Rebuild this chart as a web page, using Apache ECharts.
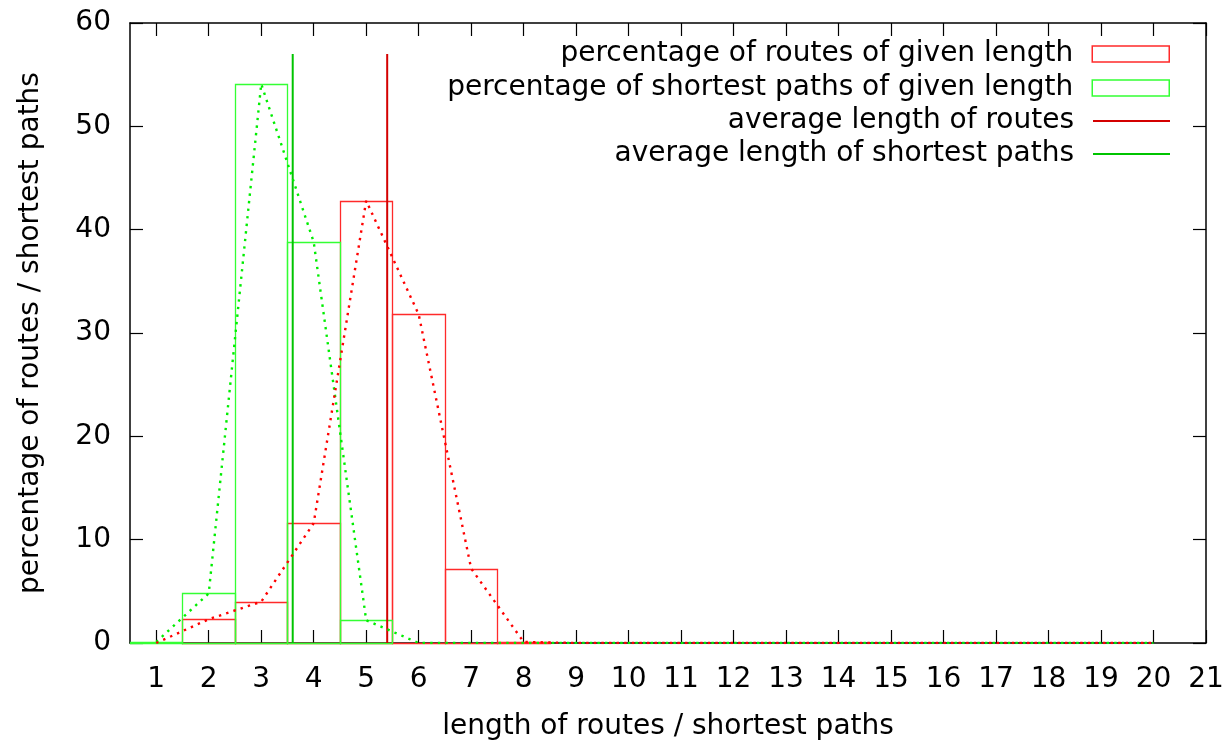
<!DOCTYPE html>
<html>
<head>
<meta charset="utf-8">
<script src="https://cdn.jsdelivr.net/npm/echarts@6/dist/echarts.min.js"></script>
<style>
  html, body { margin: 0; padding: 0; background: #fff; }
  #chart { width: 1228px; height: 740px; }
</style>
</head>
<body>
<div id="chart"></div>
<script>
// path lengths 1..20
const lengths = [1, 2, 3, 4, 5, 6, 7, 8, 9, 10, 11, 12, 13, 14, 15, 16, 17, 18, 19, 20];
// percentage of routes of each length
const routePct = [0, 2.3, 4.0, 11.6, 42.8, 31.8, 7.2, 0.1, 0, 0, 0, 0, 0, 0, 0, 0, 0, 0, 0, 0];
// percentage of shortest paths of each length
const shortestPct = [0.1, 4.8, 54.1, 38.8, 2.2, 0, 0, 0, 0, 0, 0, 0, 0, 0, 0, 0, 0, 0, 0, 0];
// mean lengths and the height of their marker lines
const avgRoute = 5.4;
const avgShortest = 3.6;
const avgLineTop = 57;
// axis ticks
const xTicks = [1, 2, 3, 4, 5, 6, 7, 8, 9, 10, 11, 12, 13, 14, 15, 16, 17, 18, 19, 20, 21];
const yTicks = [0, 10, 20, 30, 40, 50, 60];

const names = {
  routes: 'percentage of routes of given length',
  shortest: 'percentage of shortest paths of given length',
  avgRoutes: 'average length of routes',
  avgShortest: 'average length of shortest paths'
};

const FONT = 'DejaVu Sans';
const FS = 28;
const RED_BOX = '#ff2a2a';
const GREEN_BOX = '#33ff33';
const RED_AVG = '#d40000';
const GREEN_AVG = '#00c400';

const pairs = (vals) => lengths.map((x, i) => [x, vals[i]]);

// outlined box of width 1 centred on each length; empty bins draw nothing
function boxRenderer(color) {
  return function (params, api) {
    const x = api.value(0), y = api.value(1);
    if (!(y > 0)) return null;
    const a = api.coord([x - 0.5, y]);
    const b = api.coord([x + 0.5, 0]);
    return {
      type: 'rect',
      shape: { x: Math.round(a[0]) + 0.5, y: Math.round(a[1]) + 0.5,
               width: Math.round(b[0]) - Math.round(a[0]),
               height: Math.round(b[1]) - Math.round(a[1]) },
      style: { fill: 'none', stroke: color, lineWidth: 1.3 }
    };
  };
}

const axisCommon = {
  axisLine: { show: true, onZero: false, lineStyle: { color: '#000', width: 1.5 } },
  axisTick: { show: true, inside: true, length: 13, lineStyle: { color: '#000', width: 1.2 } },
  splitLine: { show: false }
};

function legendEntry(name, top, icon, itemHeight, itemStyle, lineStyle) {
  const d = { name: name, icon: icon, itemStyle: itemStyle };
  if (lineStyle) d.lineStyle = lineStyle;
  return {
    orient: 'vertical', right: 58, top: top, padding: 0,
    itemWidth: 77, itemHeight: itemHeight, selectedMode: false,
    align: 'right',
    textStyle: { fontFamily: FONT, fontSize: FS, color: '#000', lineHeight: 30, padding: [0, 14, 0, 0] },
    data: [d]
  };
}

const chart = echarts.init(document.getElementById('chart'), null, { renderer: 'canvas' });
chart.setOption({
  animation: false,
  backgroundColor: '#fff',
  grid: { left: 130, right: 22, top: 23, bottom: 97, containLabel: false, outerBoundsMode: 'none' },
  legend: [
    legendEntry(names.routes, 39, 'rect', 16, { color: 'rgba(0,0,0,0)', borderColor: RED_BOX, borderWidth: 1.5 }),
    legendEntry(names.shortest, 73, 'rect', 16, { color: 'rgba(0,0,0,0)', borderColor: GREEN_BOX, borderWidth: 1.5 }),
    legendEntry(names.avgRoutes, 106, 'rect', 2, { color: RED_AVG }, { color: RED_AVG, width: 2 }),
    legendEntry(names.avgShortest, 139, 'rect', 2, { color: GREEN_AVG }, { color: GREEN_AVG, width: 2 })
  ],
  xAxis: [
    Object.assign({}, axisCommon, {
      type: 'value', position: 'bottom', min: 0.5, max: 21,
      name: 'length of routes / shortest paths', nameLocation: 'middle', nameGap: 70,
      nameTextStyle: { fontFamily: FONT, fontSize: FS, color: '#000' },
      axisTick: Object.assign({}, axisCommon.axisTick, { customValues: xTicks }),
      axisLabel: { customValues: xTicks, fontFamily: FONT, fontSize: FS, color: '#000', margin: 23 }
    }),
    Object.assign({}, axisCommon, {
      type: 'value', position: 'top', min: 0.5, max: 21,
      axisTick: Object.assign({}, axisCommon.axisTick, { customValues: xTicks }),
      axisLabel: { show: false }
    })
  ],
  yAxis: [
    Object.assign({}, axisCommon, {
      type: 'value', position: 'left', min: 0, max: 60, interval: 10,
      name: 'percentage of routes / shortest paths', nameLocation: 'middle', nameGap: 85, nameRotate: 90,
      nameTextStyle: { fontFamily: FONT, fontSize: FS, color: '#000' },
      axisLabel: { fontFamily: FONT, fontSize: FS, color: '#000', margin: 19 }
    }),
    Object.assign({}, axisCommon, {
      type: 'value', position: 'right', min: 0, max: 60, interval: 10,
      axisLabel: { show: false }
    })
  ],
  series: [
    {
      name: names.routes, type: 'custom', renderItem: boxRenderer(RED_BOX),
      itemStyle: { color: 'rgba(0,0,0,0)', borderColor: RED_BOX },
      data: pairs(routePct), z: 2
    },
    {
      name: names.shortest, type: 'custom', renderItem: boxRenderer(GREEN_BOX),
      itemStyle: { color: 'rgba(0,0,0,0)', borderColor: GREEN_BOX },
      data: pairs(shortestPct), z: 3
    },
    {
      name: names.avgRoutes, type: 'line', showSymbol: false, symbol: 'none',
      lineStyle: { color: RED_AVG, width: 2 }, itemStyle: { color: RED_AVG },
      data: [[avgRoute, 0], [avgRoute, avgLineTop]], z: 4
    },
    {
      name: names.avgShortest, type: 'line', showSymbol: false, symbol: 'none',
      lineStyle: { color: GREEN_AVG, width: 2 }, itemStyle: { color: GREEN_AVG },
      data: [[avgShortest, 0], [avgShortest, avgLineTop]], z: 4
    },
    {
      name: 'shortest-trend', type: 'line', showSymbol: false, symbol: 'none',
      lineStyle: { color: '#00ee00', width: 2.4, type: [2.4, 5.2] },
      data: pairs(shortestPct), z: 5
    },
    {
      name: 'routes-trend', type: 'line', showSymbol: false, symbol: 'none',
      lineStyle: { color: '#ff0000', width: 2.4, type: [2.4, 5.2] },
      data: pairs(routePct), z: 6
    }
  ]
});
</script>
</body>
</html>
